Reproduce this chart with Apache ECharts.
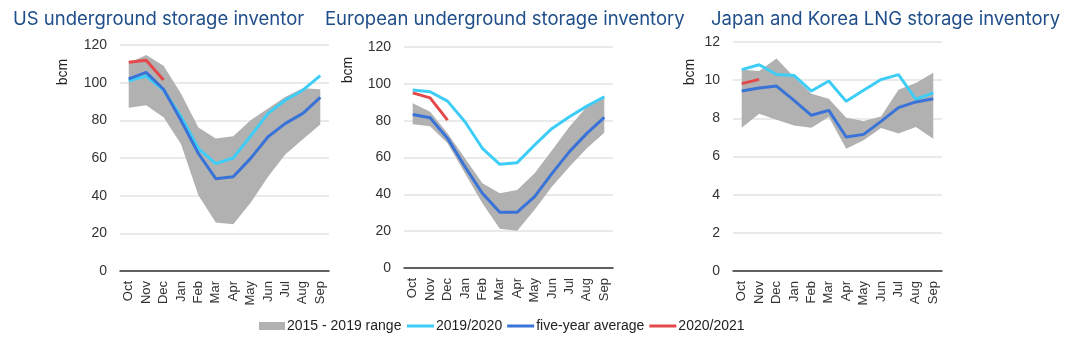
<!DOCTYPE html>
<html>
<head>
<meta charset="utf-8">
<script src="https://cdn.jsdelivr.net/npm/echarts@6/dist/echarts.min.js"></script>
<style>
  html, body { margin: 0; padding: 0; background: #fff; }
  #chart { width: 1080px; height: 352px; }
</style>
</head>
<body>
<div id="chart"></div>
<script>
const months = ['Oct', 'Nov', 'Dec', 'Jan', 'Feb', 'Mar', 'Apr', 'May', 'Jun', 'Jul', 'Aug', 'Sep'];

// US underground storage (bcm)
const usLow = [86.7, 88, 81.6, 67.4, 40.2, 25.7, 24.8, 36.2, 50, 62, 69.9, 77.8];
const usHigh = [110.3, 114.7, 109, 94.3, 76.2, 70.4, 71.6, 80, 86.3, 92.5, 97, 96.5];
const us1920 = [101, 103.5, 96, 82, 65, 57, 60, 71.6, 83.7, 90.8, 96, 103.7];
const usAvg = [102, 105.5, 96.5, 80, 62.4, 49, 50, 59.8, 71.3, 78.4, 83.7, 92.2];
const us2021 = [110.8, 111.9, 101.4];

// European underground storage (bcm)
const euLow = [78, 77, 67.7, 51.4, 35.2, 21.3, 20.2, 31.6, 44.2, 55, 65, 73.5];
const euHigh = [89.4, 84.8, 73.1, 59.6, 46, 40.6, 42.4, 51.4, 64, 76.7, 87.5, 93];
const eu1920 = [96.6, 95.7, 90.6, 79.4, 65, 56.3, 57.2, 66.8, 75.8, 82.1, 87.9, 93];
const euAvg = [83.4, 81.6, 70.4, 55, 40.6, 30.3, 30.3, 38.8, 51.4, 63.2, 73.1, 81.8];
const eu2021 = [95.1, 92.4, 80.3];

// Japan and Korea LNG storage (bcm)
const jkLow = [7.51, 8.24, 7.93, 7.63, 7.51, 8.07, 6.41, 6.85, 7.49, 7.2, 7.55, 6.93];
const jkHigh = [10.55, 10.48, 11.13, 10.17, 9.29, 9.03, 8.03, 7.86, 8.1, 9.5, 9.85, 10.39];
const jk1920 = [10.55, 10.81, 10.3, 10.25, 9.43, 9.96, 8.89, 9.47, 10.03, 10.29, 9.0, 9.33];
const jkAvg = [9.43, 9.59, 9.69, 8.94, 8.16, 8.42, 7.02, 7.16, 7.84, 8.56, 8.86, 9.03];
const jk2021 = [9.82, 10.04];

const titles = ['US underground storage inventor', 'European underground storage inventory', 'Japan and Korea LNG storage inventory'];
const yMax = [120, 120, 12];
const yStep = [20, 20, 2];

const RANGE = '2015 - 2019 range';
const LAST = '2019/2020';
const AVG = 'five-year average';
const CUR = '2020/2021';

const colGrey = '#b1b1b1';
const colLight = '#3dcdf6';
const colDark = '#3a73d8';
const colRed = '#e5484a';

const panels = [
    { low: usLow, high: usHigh, last: us1920, avg: usAvg, cur: us2021 },
    { low: euLow, high: euHigh, last: eu1920, avg: euAvg, cur: eu2021 },
    { low: jkLow, high: jkHigh, last: jk1920, avg: jkAvg, cur: jk2021 }
];

const grids = [
    { left: 120, top: 45, width: 209, height: 226 },
    { left: 404, top: 47, width: 209, height: 221 },
    { left: 733, top: 42, width: 209, height: 229 }
];
const titlePos = [13, 325, 711];
const bcmPos = [[63, 72], [348, 70], [690, 72]];

const chart = echarts.init(document.getElementById('chart'));

const series = [];
panels.forEach(function (p, i) {
    // grey band = transparent base + (high - low) stacked on top
    series.push({
        name: 'base' + i,
        type: 'line',
        xAxisIndex: i,
        yAxisIndex: i,
        stack: 'band' + i,
        data: p.low,
        symbol: 'none',
        lineStyle: { opacity: 0 },
        silent: true
    });
    series.push({
        name: RANGE,
        type: 'line',
        xAxisIndex: i,
        yAxisIndex: i,
        stack: 'band' + i,
        data: p.high.map(function (v, k) { return +(v - p.low[k]).toFixed(2); }),
        symbol: 'none',
        itemStyle: { color: colGrey },
        lineStyle: { opacity: 0 },
        areaStyle: { color: colGrey, opacity: 1 }
    });
    series.push({
        name: LAST, type: 'line', xAxisIndex: i, yAxisIndex: i,
        data: p.last, symbol: 'none',
        itemStyle: { color: colLight },
        lineStyle: { color: colLight, width: 3 }
    });
    series.push({
        name: AVG, type: 'line', xAxisIndex: i, yAxisIndex: i,
        data: p.avg, symbol: 'none',
        itemStyle: { color: colDark },
        lineStyle: { color: colDark, width: 3 }
    });
    series.push({
        name: CUR, type: 'line', xAxisIndex: i, yAxisIndex: i,
        data: p.cur, symbol: 'none',
        itemStyle: { color: colRed },
        lineStyle: { color: colRed, width: 3 }
    });
});

const option = {
    animation: false,
    backgroundColor: '#fff',
    textStyle: { fontFamily: 'Liberation Sans, Arial, sans-serif' },
    title: titles.map(function (t, i) {
        return {
            text: t,
            left: titlePos[i],
            top: 10,
            padding: 0,
            textStyle: { fontFamily: 'Inter', fontSize: 18.5, fontWeight: 'normal', color: '#1f4e8a' }
        };
    }),
    grid: grids,
    xAxis: grids.map(function (g, i) {
        return {
            type: 'category',
            gridIndex: i,
            data: months,
            boundaryGap: true,
            axisLine: { lineStyle: { color: '#333', width: 1.5 } },
            axisTick: { show: false },
            axisLabel: { rotate: 90, interval: 0, fontSize: 13, color: '#333', margin: 10 }
        };
    }),
    yAxis: grids.map(function (g, i) {
        return {
            type: 'value',
            gridIndex: i,
            min: 0,
            max: yMax[i],
            interval: yStep[i],
            axisLine: { show: false },
            axisTick: { show: false },
            axisLabel: { fontSize: 14, color: '#333', margin: 13 },
            splitLine: { lineStyle: { color: '#e3e3e3', width: 1.5 } }
        };
    }),
    legend: [{
        data: [{ name: RANGE, icon: 'rect' }],
        left: 259,
        top: 319,
        padding: 0,
        itemWidth: 26,
        itemHeight: 8,
        textStyle: { fontSize: 14, color: '#222', padding: [0, 0, 0, -3] }
    }, {
        data: [LAST, AVG, CUR].map(function (n) { return { name: n, icon: 'rect' }; }),
        left: 407,
        top: 319,
        padding: 0,
        itemWidth: 27,
        itemHeight: 3,
        itemGap: 5,
        textStyle: { fontSize: 14, color: '#222', padding: [0, 0, 0, -3] }
    }],
    graphic: bcmPos.map(function (pos) {
        return {
            type: 'text',
            x: pos[0],
            y: pos[1],
            rotation: Math.PI / 2,
            style: {
                text: 'bcm',
                fill: '#222',
                font: '14px Liberation Sans, Arial, sans-serif',
                align: 'center',
                verticalAlign: 'middle'
            }
        };
    }),
    series: series
};

chart.setOption(option);
</script>
</body>
</html>
